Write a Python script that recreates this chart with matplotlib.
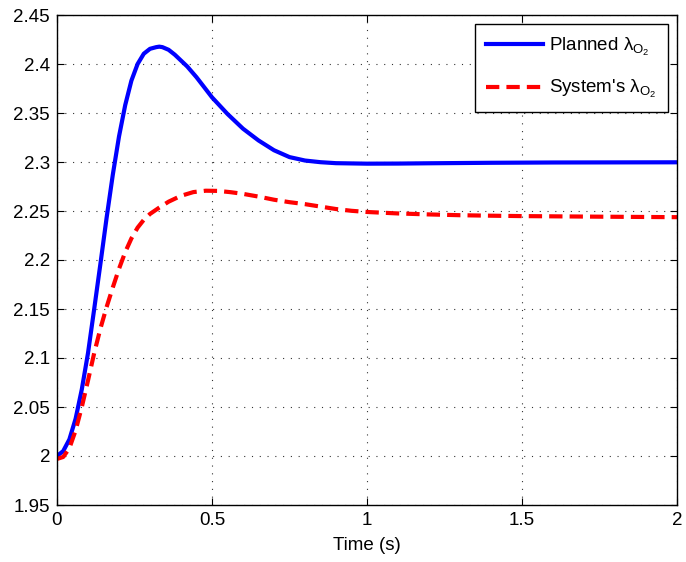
import matplotlib
matplotlib.use("Agg")
import matplotlib.pyplot as plt
from matplotlib.ticker import FuncFormatter

plt.rcParams['font.family'] = ['Liberation Sans', 'DejaVu Sans']
plt.rcParams['mathtext.fontset'] = 'custom'
plt.rcParams['mathtext.rm'] = 'Liberation Sans'
plt.rcParams['mathtext.it'] = 'Liberation Sans'

# Planned lambda_O2
t_planned = [0.00, 0.02, 0.04, 0.06, 0.08, 0.10, 0.12, 0.14, 0.16, 0.18,
             0.20, 0.22, 0.24, 0.26, 0.28, 0.30, 0.32, 0.33, 0.34, 0.36, 0.38,
             0.40, 0.42, 0.45, 0.50, 0.55, 0.60, 0.65, 0.70, 0.75, 0.80,
             0.85, 0.90, 1.00, 1.10, 1.20, 1.40, 1.60, 2.00]
v_planned = [2.000, 2.005, 2.017, 2.038, 2.068, 2.105, 2.150, 2.196, 2.243, 2.287,
             2.326, 2.358, 2.383, 2.400, 2.4105, 2.4155, 2.4172, 2.4177, 2.4172, 2.4145, 2.4095,
             2.4035, 2.3975, 2.3865, 2.366, 2.349, 2.334, 2.322, 2.312, 2.305, 2.3015,
             2.2998, 2.2988, 2.2983, 2.2984, 2.2987, 2.2992, 2.2995, 2.2997]

# System's lambda_O2
t_system = [0.00, 0.02, 0.04, 0.06, 0.08, 0.10, 0.12, 0.14, 0.16, 0.18,
            0.20, 0.22, 0.24, 0.26, 0.28, 0.30, 0.33, 0.36, 0.40, 0.44,
            0.48, 0.52, 0.56, 0.60, 0.65, 0.70, 0.75, 0.80, 0.85, 0.90,
            0.95, 1.00, 1.10, 1.20, 1.30, 1.40, 1.50, 1.75, 2.00]
v_system = [1.997, 1.999, 2.008, 2.026, 2.050, 2.077, 2.105, 2.130, 2.152, 2.172,
            2.191, 2.208, 2.222, 2.233, 2.241, 2.247, 2.2535, 2.2595, 2.2655, 2.2693,
            2.2707, 2.2705, 2.2692, 2.2675, 2.2647, 2.2615, 2.2590, 2.2570, 2.2545, 2.2520,
            2.2502, 2.2490, 2.2475, 2.2465, 2.2457, 2.2452, 2.2448, 2.2442, 2.2437]

x_ticks = [0, 0.5, 1, 1.5, 2]
y_ticks = [1.95, 2.0, 2.05, 2.1, 2.15, 2.2, 2.25, 2.3, 2.35, 2.4, 2.45]

fig = plt.figure(figsize=(6.86, 5.62), dpi=100)
ax = fig.add_axes([57/686, 57/562, 620/686, 490/562])

ax.plot(t_planned, v_planned, color='#0000ff', lw=3, solid_joinstyle='round',
        label=r'Planned $\lambda_{\mathrm{O}_2}$')
ax.plot(t_system, v_system, color='#ff0000', lw=3, dashes=(3.2, 1.7),
        label=r"System's $\lambda_{\mathrm{O}_2}$")

ax.set_xlim(0, 2)
ax.set_ylim(1.95, 2.45)
ax.set_xticks(x_ticks)
ax.set_yticks(y_ticks)
fmt = FuncFormatter(lambda v, p: f'{v:g}')
ax.xaxis.set_major_formatter(fmt)
ax.yaxis.set_major_formatter(fmt)
ax.tick_params(direction='in', top=True, right=True, labelsize=13.5, length=5, width=0.8, pad=5)
ax.grid(True, color='black', linestyle=(0, (1, 6)), linewidth=0.8, alpha=0.8)
for s in ax.spines.values():
    s.set_linewidth(1.0)
ax.set_xlabel('Time (s)', fontsize=13.5, labelpad=6)

leg = ax.legend(loc='upper right', fontsize=13.5, frameon=True, fancybox=False,
                edgecolor='black', framealpha=1, handlelength=3.0, handletextpad=0.35,
                borderaxespad=0.5, labelspacing=1.1, borderpad=0.6)
leg.get_frame().set_linewidth(1.0)

fig.savefig('out.png', dpi=100)
